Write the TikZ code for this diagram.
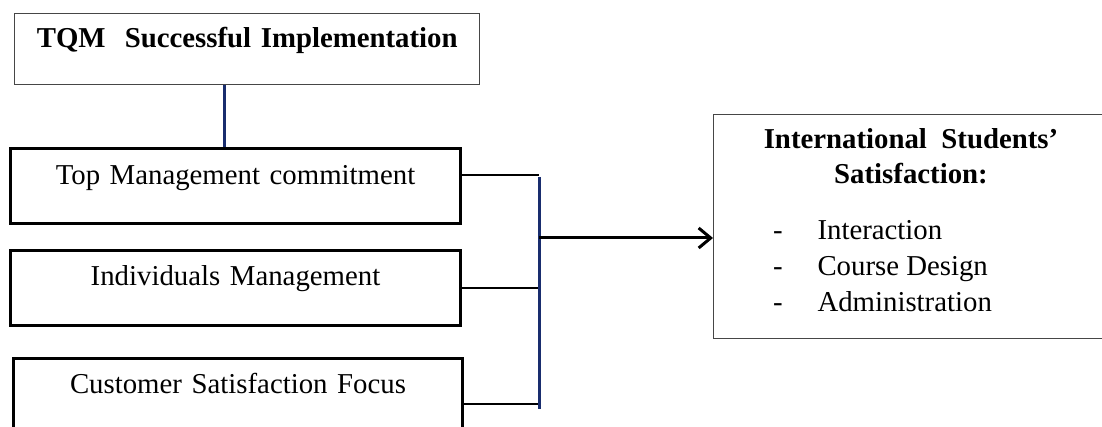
\documentclass[tikz,border=0pt]{standalone}
\usepackage{fontspec}
\setmainfont{Liberation Serif}
\usetikzlibrary{arrows.meta}

\definecolor{navyline}{RGB}{25,45,110}
\definecolor{thinframe}{RGB}{70,70,70}

\tikzset{every picture/.style={line width=0.75pt}}
\tikzset{
  txt/.style={font=\fontsize{21.6}{26}\selectfont, inner sep=0pt},
  thinbox/.style={draw=thinframe, line width=1.1pt, rectangle, inner sep=0pt, align=center, font=\fontsize{21.6}{26}\selectfont},
  thickbox/.style={draw=black, line width=2.25pt, rectangle, inner sep=0pt, align=center, font=\fontsize{21.6}{26}\selectfont},
  navyrule/.style={draw=navyline, line width=2.25pt},
  feeder/.style={draw=black, line width=1.5pt},
}

\begin{document}
\begin{tikzpicture}[x=0.75pt,y=0.75pt,yscale=-1,xscale=1]
\clip (0,0) rectangle (1102,427); %set diagram size 1102 x 427

%Shape: Rectangle [id:tqm]
\node [thinbox, anchor=north west, minimum width=348.75pt, text height=25.5pt, text depth=27.75pt, text width=348.75pt] (tqm) at (14,13) {\bfseries TQM~ Successful Implementation};
%Shape: Rectangle [id:topmgmt]
\node [thickbox, anchor=north west, minimum width=337.5pt, text height=27pt, text depth=29.25pt, text width=337.5pt] (topmgmt) at (9,147) {Top Management commitment};
%Shape: Rectangle [id:indiv]
\node [thickbox, anchor=north west, minimum width=337.5pt, text height=26.25pt, text depth=30pt, text width=337.5pt] (indiv) at (9,249) {Individuals Management};
%Shape: Rectangle [id:custfocus]
\node [thickbox, anchor=north west, minimum width=336.75pt, text height=26.25pt, text depth=30pt, text width=336.75pt] (custfocus) at (12,357) {Customer Satisfaction Focus};
%Shape: Rectangle [id:sat]
\node [thinbox, anchor=north west, minimum width=299.25pt, minimum height=168pt] (sat) at (713,114) {};

% Junction points
\coordinate (link) at (224,0);
\coordinate (j1) at (539,175);
\coordinate (j2) at (539,288);
\coordinate (j3) at (539,404);
\coordinate (jtop) at (539,177);
\coordinate (jbot) at (539,409);
\coordinate (jout) at (539,238);

%Straight Lines [id:tqmlink]
\draw [navyrule] (tqm.south -| link) -- (topmgmt.north -| link) ;
%Straight Lines [id:feeders]
\draw [feeder] (topmgmt.east |- j1) -- (j1) ;
\draw [feeder] (indiv.east |- j2) -- (j2) ;
\draw [feeder] (custfocus.east |- j3) -- (j3) ;
%Straight Lines [id:bar]
\draw [navyrule] (jtop) -- (jbot) ;
%Straight Lines [id:arrow]
\draw [line width=2.25pt, -{Straight Barb[length=9pt,width=15pt]}] (jout) -- (sat.west |- jout) ;

% Text Node
\node [txt, anchor=base, font=\fontsize{21.6}{26}\selectfont\bfseries] (sathead) at (911,149) {International~ Students’};
% Text Node
\node [txt, anchor=base, font=\fontsize{21.6}{26}\selectfont\bfseries] (sathead2) at (911,184) {Satisfaction:};
% Text Node
\node [txt, anchor=base] (dasha) at (778,240) {-};
\node [txt, anchor=base west] (itema) at (817,240) {Interaction};
% Text Node
\node [txt, anchor=base] (dashb) at (778,276) {-};
\node [txt, anchor=base west] (itemb) at (817,276) {Course Design};
% Text Node
\node [txt, anchor=base] (dashc) at (778,311) {-};
\node [txt, anchor=base west] (itemc) at (817,311) {Administration};

\end{tikzpicture}
\end{document}
